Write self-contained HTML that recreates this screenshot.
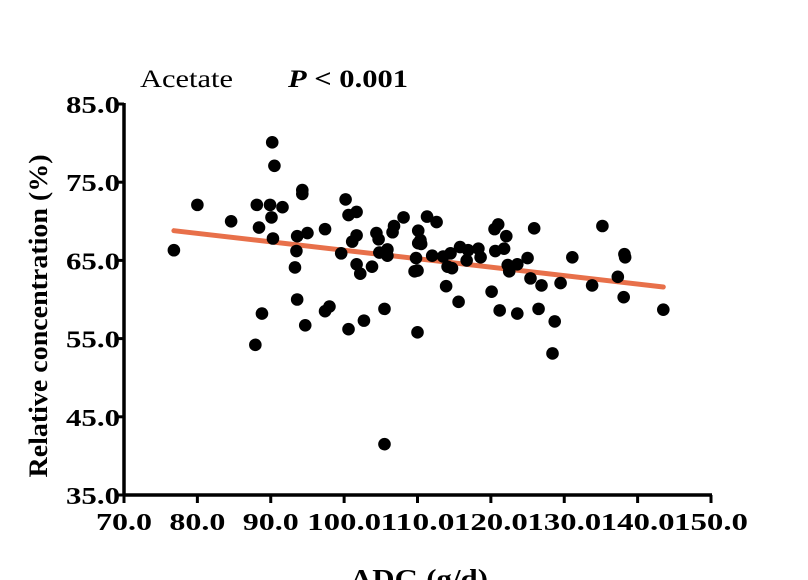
<!DOCTYPE html>
<html><head><meta charset="utf-8"><style>
html,body{margin:0;padding:0;background:#fff;width:808px;height:580px;overflow:hidden}
svg{display:block;font-family:"Liberation Serif",serif}
</style></head><body>
<svg id="chart" width="808" height="580">
<text x="140" y="87" font-size="25" textLength="93" lengthAdjust="spacingAndGlyphs">Acetate</text>
<text x="288" y="87" font-size="25" font-weight="bold" textLength="120" lengthAdjust="spacingAndGlyphs"><tspan font-style="italic">P</tspan> &lt; 0.001</text>
<text transform="translate(47,316) rotate(-90)" text-anchor="middle" font-size="26" font-weight="bold" textLength="323" lengthAdjust="spacingAndGlyphs">Relative concentration (%)</text>
<text x="419" y="588" text-anchor="middle" font-size="27" font-weight="bold" textLength="138" lengthAdjust="spacingAndGlyphs">ADG (g/d)</text>
<g id="axes"></g><g id="marks"></g>
</svg>
<script>
const xTicks=[70,80,90,100,110,120,130,140,150];
const yTicks=[35,45,55,65,75,85];
const adg=[76.8,80.0,84.6,88.1,88.4,88.8,87.9,90.2,90.5,89.9,90.1,90.3,91.6,94.3,94.3,93.6,95.0,93.5,93.3,93.6,94.7,97.4,97.4,98.0,99.6,100.2,100.6,101.7,101.7,101.1,101.7,102.2,100.6,102.7,103.8,104.4,104.7,104.8,105.9,105.9,105.5,106.6,106.8,108.1,105.5,110.1,110.1,109.8,109.6,110.0,111.3,112.6,110.4,110.5,110.0,112.0,113.5,114.5,114.1,114.7,113.9,115.6,115.8,116.9,116.7,118.3,118.6,120.1,120.5,121.0,122.1,120.6,121.8,122.3,122.5,123.6,121.2,123.6,125.0,125.9,125.4,126.9,126.5,129.5,128.7,128.4,131.1,133.8,135.2,137.3,138.2,138.3,138.1,143.5];
const acetate=[66.3,72.1,70.0,72.1,69.2,58.2,54.2,80.1,77.1,72.1,70.5,67.8,71.8,74.0,73.5,68.1,68.5,66.2,64.1,60.0,56.7,69.0,58.5,59.1,65.9,72.8,70.8,71.2,68.2,67.4,64.5,63.3,56.2,57.3,64.2,68.5,67.7,66.0,66.4,65.6,58.8,68.6,69.4,70.5,41.5,68.8,67.2,65.3,63.6,55.8,70.6,69.9,67.6,67.1,63.7,65.6,65.5,65.9,64.2,64.0,61.7,59.7,66.7,66.3,65.0,66.5,65.4,61.0,69.0,69.6,68.1,66.2,66.5,64.4,63.6,64.5,58.6,58.2,65.3,69.1,62.7,61.8,58.8,62.1,57.2,53.1,65.4,61.8,69.4,62.9,65.8,65.4,60.3,58.7];
const fitX=[76.8,143.5];
const fitY=[68.8,61.6];
const NS='http://www.w3.org/2000/svg';
const sx=v=>124+(v-70)*(711-124)/80;
const sy=v=>495-(v-35)*(495-104)/50;
const axes=document.getElementById('axes'),marks=document.getElementById('marks');
function mk(tag,attrs,parent){const e=document.createElementNS(NS,tag);for(const k in attrs)e.setAttribute(k,attrs[k]);parent.appendChild(e);return e;}
const ya=mk('line',{x1:124,y1:103,x2:124,y2:496.5,stroke:'#000','stroke-width':3.5},axes);


const xa=mk('line',{x1:122.5,y1:495,x2:712,y2:495,stroke:'#000','stroke-width':3.5},axes);


yTicks.forEach(t=>{
 const l=mk('line',{x1:116,y1:sy(t),x2:124,y2:sy(t),stroke:'#000','stroke-width':3},axes);
 
 
 const tx=mk('text',{x:66,y:sy(t)+9,'font-size':24,'font-weight':'bold',textLength:54,lengthAdjust:'spacingAndGlyphs'},axes);
 tx.textContent=t.toFixed(1);
 
 
});
xTicks.forEach(t=>{
 const l=mk('line',{x1:sx(t),y1:495,x2:sx(t),y2:503,stroke:'#000','stroke-width':3},axes);
 
 
 const s=t.toFixed(1);
 const w=s.length>4?74:56;
 const tx=mk('text',{x:sx(t)-w/2,y:530,'font-size':24,'font-weight':'bold',textLength:w,lengthAdjust:'spacingAndGlyphs'},axes);
 tx.textContent=s;
 
 
});
const fl=mk('line',{x1:sx(fitX[0]),y1:sy(fitY[0]),x2:sx(fitX[1]),y2:sy(fitY[1]),stroke:'#e8704a','stroke-width':5,'stroke-linecap':'round'},marks);


adg.forEach((v,i)=>{
 const c=mk('circle',{cx:sx(v),cy:sy(acetate[i]),r:6.3,fill:'#000'},marks);
 
 
});
</script>
</body></html>
